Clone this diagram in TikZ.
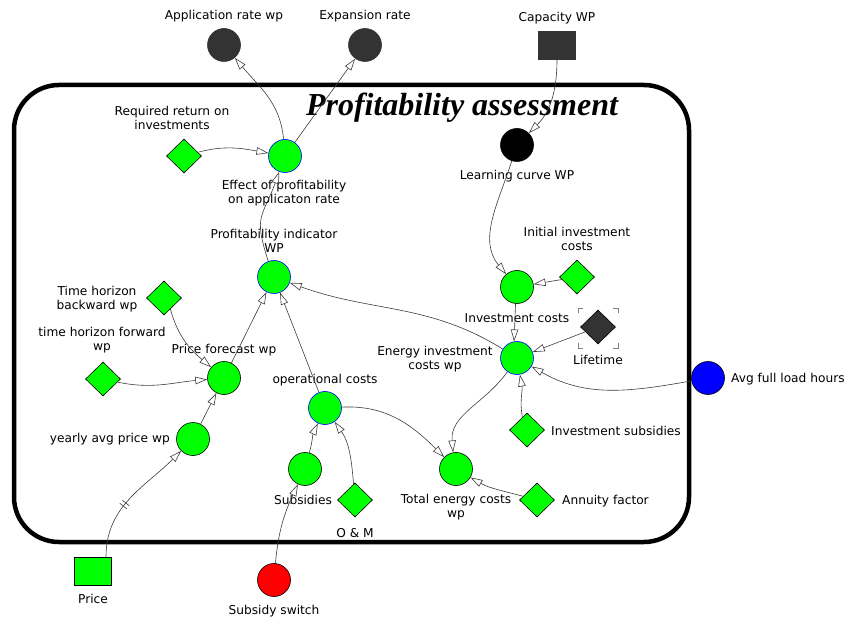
\documentclass[tikz,border=0pt]{standalone}
\usepackage{fontspec}
\setmainfont{DejaVu Sans}
\newfontfamily\titlefont{Liberation Serif}
\usetikzlibrary{arrows.meta,shapes.geometric,decorations.markings}

\definecolor{vgreen}{RGB}{0,255,0}
\definecolor{vblue}{RGB}{0,0,255}
\definecolor{vred}{RGB}{255,0,0}
\definecolor{vdark}{RGB}{51,51,51}
\definecolor{linkgray}{RGB}{60,60,60}
\definecolor{bracketgray}{RGB}{128,128,128}

\tikzset{
  aux/.style={circle, draw=black, fill=vgreen, minimum size=33pt, inner sep=0pt, line width=0.6pt},
  auxb/.style={aux, draw=vblue},
  darkaux/.style={aux, fill=vdark, draw=vdark},
  const/.style={diamond, draw=black, fill=vgreen, minimum width=35pt, minimum height=34pt, inner sep=0pt, line width=0.6pt},
  stock/.style={rectangle, draw=black, fill=vgreen, minimum width=37pt, minimum height=28pt, inner sep=0pt, line width=0.6pt},
  lbl/.style={font=\fontsize{12.2}{14.5}\selectfont, align=center, inner sep=0pt},
  link/.style={draw=linkgray, line width=0.6pt, -{Triangle[open,length=12pt,width=7.5pt]}},
  delaymark/.style={postaction={decorate, decoration={markings,
      mark=at position #1 with {
        \draw[-, linkgray, line width=0.6pt] (-2pt,-4.5pt) -- (-2pt,4.5pt);
        \draw[-, linkgray, line width=0.6pt] (2pt,-4.5pt) -- (2pt,4.5pt);}}}},
}

\begin{document}
\begin{tikzpicture}[x=1pt, y=1pt]
\useasboundingbox (0,0) rectangle (852,622);

% module frame and title
\draw[line width=4.5pt, rounded corners=45pt] (14,80) rectangle (689,537);
\node[inner sep=0pt, font=\titlefont\bfseries\itshape\fontsize{32}{36}\selectfont] (title) at (462,514) {Profitability assessment};

% ---- variables ----
\node[darkaux] (app) at (224,577) {};
\node[darkaux] (exp) at (365,577) {};
\node[stock, fill=vdark, draw=vdark] (cap) at (557,577) {};
\node[auxb] (eff) at (285,466) {};
\node[const] (req) at (184,466) {};
\node[aux, fill=black] (lc) at (517,477) {};
\node[auxb] (prof) at (274,345) {};
\node[const] (thb) at (164,324) {};
\node[const] (thf) at (103,243) {};
\node[aux] (pf) at (224,244) {};
\node[aux] (yap) at (193,183) {};
\node[auxb] (opc) at (325,214) {};
\node[aux] (sub) at (305,153) {};
\node[const] (om) at (355,122) {};
\node[aux, fill=vred] (ss) at (274,42) {};
\node[stock] (price) at (93,51) {};
\node[aux] (ic) at (517,335) {};
\node[const] (init) at (577,345) {};
\node[const, fill=vdark] (life) at (598,295) {};
\node[auxb] (eic) at (517,264) {};
\node[aux, fill=vblue] (afl) at (708,244) {};
\node[const] (isub) at (527,192) {};
\node[aux] (tec) at (456,153) {};
\node[const] (ann) at (537,122) {};

% ghost-variable corner brackets around Lifetime
\begin{scope}[draw=bracketgray, line width=0.8pt]
  \draw (578,309) -- (578,314) -- (583,314);
  \draw (613,314) -- (618,314) -- (618,309);
  \draw (578,279) -- (578,274) -- (583,274);
  \draw (613,274) -- (618,274) -- (618,279);
\end{scope}

% ---- labels ----
\node[lbl] (l-app) at (224,606) {Application rate wp};
\node[lbl] (l-exp) at (365,606) {Expansion rate};
\node[lbl] (l-cap) at (557,604) {Capacity WP};
\node[lbl] (l-req) at (172,504) {Required return on\\investments};
\node[lbl] (l-eff) at (284,429) {Effect of profitability\\on applicaton rate};
\node[lbl] (l-lc) at (517,446) {Learning curve WP};
\node[lbl] (l-prof) at (274,381) {Profitability indicator\\WP};
\node[lbl] (l-thb) at (97,323) {Time horizon\\backward wp};
\node[lbl] (l-thf) at (102,282) {time horizon forward\\wp};
\node[lbl] (l-pf) at (224,272) {Price forecast wp};
\node[lbl, anchor=east] (l-yap) at (170,183) {yearly avg price wp};
\node[lbl] (l-opc) at (325,242) {operational costs};
\node[lbl] (l-sub) at (303,122) {Subsidies};
\node[lbl] (l-om) at (355,89) {O \& M};
\node[lbl] (l-ss) at (274,11) {Subsidy switch};
\node[lbl] (l-price) at (93,23) {Price};
\node[lbl] (l-ic) at (517,304) {Investment costs};
\node[lbl] (l-init) at (577,383) {Initial investment\\costs};
\node[lbl] (l-life) at (598,262) {Lifetime};
\node[lbl] (l-eic) at (435,263) {Energy investment\\costs wp};
\node[lbl, anchor=west] (l-afl) at (731,243) {Avg full load hours};
\node[lbl, anchor=west] (l-isub) at (551,191) {Investment subsidies};
\node[lbl] (l-tec) at (456,115) {Total energy costs\\wp};
\node[lbl, anchor=west] (l-ann) at (562,121) {Annuity factor};

% ---- links ----
\draw[link] (eff.95) to[out=95,in=-50] (app);
\draw[link] (eff) -- (exp);
\draw[link] (req) to[out=15,in=170] (eff);
\draw[link] (prof.110) to[out=108,in=250, looseness=1.4] (eff);
\draw[link] (cap.south) to[out=-90,in=45] (lc);
\draw[link] (lc) to[out=-108,in=130] (ic);
\draw[link] (init) -- (ic);
\draw[link] (ic.265) -- (eic.100);
\draw[link] (life) -- (eic);
\draw[link] (afl) to[out=190,in=-30] (eic);
\draw[link] (isub.110) to[out=100,in=-80] (eic);
\draw[link] (eic) to[out=148,in=-20] (prof);
\draw[link] (eic) to[out=-125,in=95] (tec.100);
\draw[link] (opc) to[out=3,in=135] (tec);
\draw[link] (ann) to[out=165,in=-30] (tec);
\draw[link] (pf) -- (prof);
\draw[link] (opc) -- (prof);
\draw[link] (thb.-60) to[out=-75,in=140] (pf);
\draw[link] (thf) to[out=-12,in=185] (pf);
\draw[link] (yap) -- (pf);
\draw[link, delaymark=0.42] ([xshift=13pt]price.north) to[out=90,in=225] (yap);
\draw[link] (sub) to[out=75,in=-115] (opc);
\draw[link] (om) to[out=95,in=-55] (opc);
\draw[link] (ss) to[out=85,in=245] (sub);
\end{tikzpicture}
\end{document}
